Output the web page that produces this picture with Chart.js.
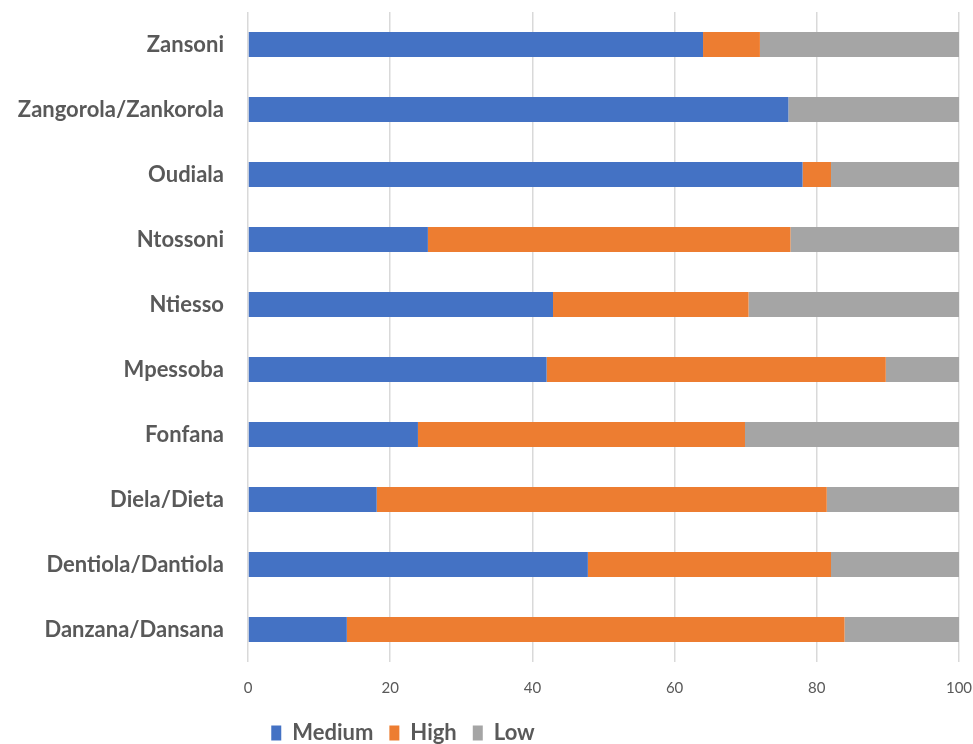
<!DOCTYPE html>
<html>
<head>
<meta charset="utf-8">
<script src="https://cdn.jsdelivr.net/npm/chart.js@4"></script>
<style>
html,body{margin:0;padding:0;background:#fff;overflow:hidden;}
#wrap{position:relative;width:973px;height:744px;}
</style>
</head>
<body>
<div id="wrap"><canvas id="c" width="973" height="744"></canvas></div>
<script>
const categories = ["Zansoni","Zangorola/Zankorola","Oudiala","Ntossoni","Ntiesso","Mpessoba","Fonfana","Diela/Dieta","Dentiola/Dantiola","Danzana/Dansana"];
const medium = [64, 76, 78, 25.3, 42.9, 42, 23.9, 18.1, 47.8, 13.9];
const high   = [8, 0, 4, 51, 27.5, 47.7, 46, 63.3, 34.2, 70];
const low    = [28, 24, 18, 23.7, 29.6, 10.3, 30.1, 18.6, 18, 16.1];
const xTicks = [0, 20, 40, 60, 80, 100];

const legendShift = {
  id: 'legendShift',
  afterLayout(chart) {
    const lg = chart.legend;
    if (lg) { lg.left = 0; lg.right = 806; }
  }
};

const bp = 0.385;
new Chart(document.getElementById('c'), {
  type: 'bar',
  data: {
    labels: categories,
    datasets: [
      {label: 'Medium', data: medium, backgroundColor: '#4472C4', barPercentage: bp, categoryPercentage: 1},
      {label: 'High', data: high, backgroundColor: '#ED7D31', barPercentage: bp, categoryPercentage: 1},
      {label: 'Low', data: low, backgroundColor: '#A5A5A5', barPercentage: bp, categoryPercentage: 1}
    ]
  },
  plugins: [legendShift],
  options: {
    indexAxis: 'y',
    responsive: false,
    animation: false,
    layout: {padding: {top: 12, right: 14, left: 0, bottom: -10}},
    scales: {
      x: {
        stacked: true, min: 0, max: 100,
        afterBuildTicks: (s) => { s.ticks = xTicks.map(v => ({value: v})); },
        grid: {color: '#d9d9d9', lineWidth: 1.5, drawTicks: false},
        border: {display: false},
        afterFit: (s) => { s.paddingLeft = 0; s.paddingRight = 0; s.height = s.height - 8; },
        ticks: {color: '#595959', font: {family: 'Lato', size: 15}, padding: 17}
      },
      y: {
        stacked: true,
        grid: {display: false},
        border: {display: false},
        afterFit: (s) => { s.width = 248; s.paddingTop = 0; s.paddingBottom = 0; },
        ticks: {color: '#595959', font: {family: 'Lato', size: 22, weight: 'bold'}, padding: 16}
      }
    },
    plugins: {
      tooltip: {enabled: false},
      legend: {
        position: 'bottom',
        labels: {boxWidth: 10, boxHeight: 15, padding: 16, color: '#595959', font: {family: 'Lato', size: 22, weight: 'bold'}}
      }
    }
  }
});
</script>
</body>
</html>
